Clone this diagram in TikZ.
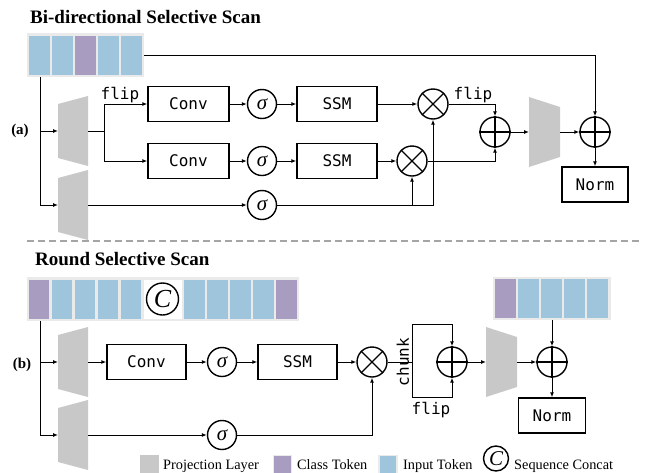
\documentclass[tikz,border=0pt]{standalone}
\usepackage{fontspec}
\setmainfont{Liberation Serif}
\newfontfamily\monof{DejaVu Sans Mono}
\usetikzlibrary{arrows.meta}
\definecolor{tokblue}{RGB}{158,197,220}
\definecolor{tokpurp}{RGB}{168,157,192}
\definecolor{projgray}{RGB}{200,200,200}
\definecolor{stripbg}{RGB}{234,234,234}
\definecolor{dashgray}{RGB}{165,165,165}
\begin{document}
\begin{tikzpicture}[x=1pt,y=-1pt,
 conn/.style={line width=1pt},
 arr/.style={line width=1pt,-{Latex[length=5pt,width=4pt]}},
 blk/.style={draw,line width=1.4pt,inner sep=0pt,minimum height=35pt,font=\monof\fontsize{16}{19}\selectfont},
 sig/.style={draw,circle,line width=1.4pt,inner sep=0pt,minimum size=29pt,font=\itshape\fontsize{21}{21}\selectfont},
 op/.style={draw,circle,line width=1.4pt,inner sep=0pt,minimum size=30pt},
 lbl/.style={font=\monof\fontsize{16}{19}\selectfont,inner sep=0pt},
 ttl/.style={font=\bfseries\fontsize{19}{22}\selectfont,inner sep=0pt,anchor=base west},
 legt/.style={font=\fontsize{14.3}{16}\selectfont,inner sep=0pt,anchor=base west},
 plab/.style={font=\bfseries\fontsize{15}{15}\selectfont,inner sep=0pt},
 strip/.style={fill=stripbg,inner sep=0pt,outer sep=0pt},
 projexp/.style={inner sep=0pt,outer sep=0pt,minimum width=30pt,minimum height=70pt,
   path picture={\fill[projgray] ([yshift=-8pt]path picture bounding box.north west) -- (path picture bounding box.north east) -- (path picture bounding box.south east) -- ([yshift=8pt]path picture bounding box.south west) -- cycle;}},
 projred/.style={inner sep=0pt,outer sep=0pt,minimum width=31pt,minimum height=70pt,
   path picture={\fill[projgray] (path picture bounding box.north west) -- ([yshift=-10pt]path picture bounding box.north east) -- ([yshift=10pt]path picture bounding box.south east) -- (path picture bounding box.south west) -- cycle;}},
 cat/.style={draw,circle,line width=1.4pt,inner sep=0pt,font=\itshape}
]
\useasboundingbox (0,0) rectangle (646,472);

% ---------------- (a) ----------------
\node[ttl] at (30,23) {Bi-directional Selective Scan};
\node[strip,minimum width=117pt,minimum height=44pt] (stripA) at (85.5,55) {};
\foreach \x/\c in {29/tokblue,52/tokblue,75/tokpurp,98/tokblue,121/tokblue}
  \fill[\c] (\x,36) rectangle ++(21,39);

\node[plab] at (20,131) {(a)};
\node[projexp] (pA1) at (73,131) {};
\node[projexp] (pA2) at (73,205) {};
\node[blk,minimum width=81pt] (convA1) at (188.5,104) {Conv};
\node[blk,minimum width=81pt] (convA2) at (188.5,161) {Conv};
\node[sig] (sA1) at (262,104) {σ};
\node[sig] (sA2) at (262,161) {σ};
\node[sig] (sA3) at (262,205) {σ};
\node[blk,minimum width=80pt] (ssmA1) at (337,104) {SSM};
\node[blk,minimum width=80pt] (ssmA2) at (337,161) {SSM};
\node[op] (mA1) at (433,104) {};
\node[op] (mA2) at (412,161) {};
\node[op] (aA1) at (495,132) {};
\node[projred] (pA3) at (544.5,132) {};
\node[op] (aA2) at (595,132) {};
\node[blk,minimum width=66pt] (normA) at (595,184.5) {Norm};

\coordinate (splitA) at ([xshift=13pt]stripA.south west);
\coordinate (brA) at (104,131);
\draw[arr] (splitA) |- (pA1.west);
\draw[arr] (splitA) |- (pA2.west);
\draw[arr] (stripA.east) -| (aA2.north);
\draw[conn] (pA1.east) -- (brA);
\draw[arr] (brA) |- (convA1.west);
\draw[arr] (brA) |- (convA2.west);
\node[lbl,anchor=base] at (120,99) {flip};
\draw[arr] (convA1) -- (sA1);
\draw[arr] (sA1) -- (ssmA1);
\draw[arr] (ssmA1) -- (mA1);
\draw[arr] (convA2) -- (sA2);
\draw[arr] (sA2) -- (ssmA2);
\draw[arr] (ssmA2) -- (mA2);
\draw[arr] (pA2.east) -- (sA3.west);
\draw[arr] (sA3.east) -| (mA1.south);
\draw[arr] (sA3.east -| mA2.south) -- (mA2.south);
\draw[arr] (mA1.east) -| (aA1.north);
\draw[arr] (mA2.east) -| (aA1.south);
\node[lbl,anchor=base] at (473,99) {flip};
\draw[arr] (aA1.east) -- (pA3.west);
\draw[arr] (pA3.east) -- (aA2.west);
\draw[arr] (aA2.south) -- (normA.north);

% separator
\draw[dashgray,line width=1.2pt,dash pattern=on 7pt off 4pt] (27,241) -- (642,241);

% ---------------- (b) ----------------
\node[ttl] at (35,265) {Round Selective Scan};
\node[strip,minimum width=272pt,minimum height=44pt] (stripB) at (162.5,299) {};
\foreach \x/\c in {28.5/tokpurp,51.5/tokblue,74.5/tokblue,97.5/tokblue,120.5/tokblue,184/tokblue,207/tokblue,230/tokblue,253/tokblue,276/tokpurp}
  \fill[\c] (\x,279.5) rectangle ++(20.5,39);
\fill[white] (143.5,279.5) rectangle (181.5,318.5);
\node[cat,minimum size=32pt] (catB) at (162.5,299) {\fontsize{26}{26}\selectfont C};

\node[plab] at (22,365) {(b)};
\node[projexp] (pB1) at (73,362) {};
\node[projexp] (pB2) at (73,435) {};
\node[blk,minimum width=79pt] (convB) at (146.5,362) {Conv};
\node[sig] (sB1) at (222,362) {σ};
\node[blk,minimum width=79pt] (ssmB) at (297.5,362) {SSM};
\node[op] (mB) at (372,362) {};
\coordinate (chTL) at (412,324);
\coordinate (chBL) at (412,397);
\node[op] (aB1) at (452,362) {};
\node[projred] (pB3) at (501.5,362) {};
\node[op] (aB2) at (552,362) {};
\node[strip,minimum width=118pt,minimum height=43pt] (stripC) at (552,298.5) {};
\foreach \x/\c in {495/tokpurp,518/tokblue,541/tokblue,564/tokblue,587/tokblue}
  \fill[\c] (\x,279) rectangle ++(20.5,39);
\node[blk,minimum width=67pt] (normB) at (552,415.5) {Norm};
\node[sig] (sB2) at (222,435) {σ};

\coordinate (splitB) at ([xshift=13.5pt]stripB.south west);
\draw[arr] (splitB) |- (pB1.west);
\draw[arr] (splitB) |- (pB2.west);
\draw[arr] (pB1.east) -- (convB.west);
\draw[arr] (convB) -- (sB1);
\draw[arr] (sB1) -- (ssmB);
\draw[arr] (ssmB) -- (mB);
\draw[arr] (pB2.east) -- (sB2.west);
\draw[arr] (sB2.east) -| (mB.south);
\draw[conn] (mB.east) -- (mB.east -| chTL);
\draw[arr] (chBL) -- (chTL) -| (aB1.north);
\draw[arr] (chBL) -| (aB1.south);
\node[lbl,rotate=90] at (403,362) {chunk};
\node[lbl,anchor=base] at (431,414) {flip};
\draw[arr] (aB1.east) -- (pB3.west);
\draw[arr] (pB3.east) -- (aB2.west);
\draw[arr] (stripC.south) -- (aB2.north);
\draw[arr] (aB2.south) -- (normB.north);

% operator glyphs
\foreach \n in {mA1,mA2,mB}
  \draw[line width=1.4pt] (\n.north west) -- (\n.south east) (\n.north east) -- (\n.south west);
\foreach \n in {aA1,aA2,aB1,aB2}
  \draw[line width=1.4pt] (\n.north) -- (\n.south) (\n.west) -- (\n.east);

% ---------------- legend ----------------
\node[fill=projgray,minimum size=19pt,inner sep=0pt] (lgP) at (149.5,464.5) {};
\node[legt] at (163,469) {Projection Layer};
\node[fill=tokpurp,draw=stripbg,line width=1.5pt,minimum size=18pt,inner sep=0pt] (lgC) at (282.5,464.5) {};
\node[legt] at (297,469) {Class Token};
\node[fill=tokblue,draw=stripbg,line width=1.5pt,minimum size=18pt,inner sep=0pt] (lgI) at (388,464.5) {};
\node[legt] at (403,469) {Input Token};
\node[cat,minimum size=25pt] (lgS) at (496,458.5) {\fontsize{21}{21}\selectfont C};
\node[legt] at (514,469) {Sequence Concat};
\end{tikzpicture}
\end{document}
